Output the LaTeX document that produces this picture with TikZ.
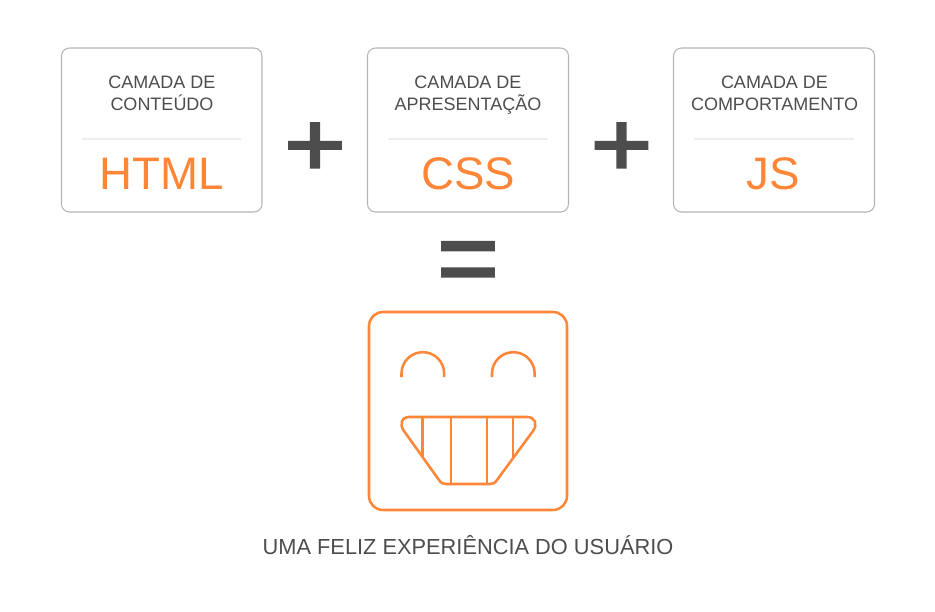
\documentclass[tikz,border=0pt]{standalone}
\usepackage{fontspec}
\setmainfont{Liberation Sans}
\newfontfamily\opfont[FakeBold=2.6]{Liberation Sans}
\definecolor{ink}{HTML}{4D4D4D}
\definecolor{orng}{HTML}{FF8636}
\definecolor{edge}{HTML}{B5B5B5}
\definecolor{rule}{HTML}{EDEDED}
\tikzset{
  card/.style={draw=edge,line width=0.8pt,rounded corners=6pt,fill=white},
  divider/.style={draw=rule,line width=0.8pt},
  captxt/.style={text=ink,font=\fontsize{13.5}{16.6}\selectfont,inner sep=0pt,anchor=base},
  bigtxt/.style={text=orng,font=\fontsize{34.2}{40}\selectfont,inner sep=0pt,anchor=base},
  optxt/.style={text=ink,font=\opfont\fontsize{79}{90}\selectfont,inner sep=0pt,anchor=base},
  face/.style={draw=orng,line width=1.9pt},
}
\begin{document}
\begin{tikzpicture}[x=0.75pt,y=-0.75pt]
\useasboundingbox (0,0) rectangle (935,611);
% cards
\draw[card] (61.5,48) rectangle (262,212);
\draw[card] (367.5,48) rectangle (568.5,212);
\draw[card] (673.5,48) rectangle (874.5,212);
\draw[divider] (82,139) -- (241,139);
\draw[divider] (388,139) -- (548,139);
\draw[divider] (694,139) -- (854,139);
\node[captxt] (t1a) at (162,88) {CAMADA DE};
\node[captxt] (t1b) at (162,110) {CONTEÚDO};
\node[captxt] (t2a) at (468,88) {CAMADA DE};
\node[captxt] (t2b) at (468,110) {APRESENTAÇÃO};
\node[captxt] (t3a) at (774.5,88) {CAMADA DE};
\node[captxt] (t3b) at (774.5,110) {COMPORTAMENTO};
\node[bigtxt] (h) at (161.8,189) {HTML};
\node[bigtxt] (c) at (468,189) {CSS};
\node[bigtxt] (j) at (773,189) {JS};
\node[optxt] (p1) at (315,175.5) {\scalebox{1}[0.86]{+}};
\node[optxt] (p2) at (621.5,175.5) {\scalebox{1}[0.86]{+}};
\node[optxt] (eq) at (468,294) {=};
% face
\draw[face,rounded corners=10.5pt] (369,312) rectangle (567,510);
\draw[face] (401.5,377) -- (401.5,373.5) arc[start angle=180,end angle=0,radius=16pt] -- ++(0,3.5);
\draw[face] (492,377) -- (492,373.5) arc[start angle=180,end angle=0,radius=16pt] -- ++(0,3.5);
\draw[face] (408,417) -- (527,417) .. controls (535,417) and (538,424) .. (533,431) -- (497,480) .. controls (495,483) and (493,484) .. (490,484) -- (446,484) .. controls (443,484) and (441,483) .. (439,480) -- (404,431) .. controls (399,424) and (402,417) .. (408,417) -- cycle;
\draw[face] (422.5,417) -- (422.5,456);
\draw[face] (451,417) -- (451,484);
\draw[face] (487,417) -- (487,484);
\draw[face] (513,417) -- (513,457);
\node[text=ink,font=\fontsize{16.35}{18}\selectfont,inner sep=0pt,anchor=base] (cap) at (468,554) {UMA FELIZ EXPERIÊNCIA DO USUÁRIO};
\end{tikzpicture}
\end{document}
